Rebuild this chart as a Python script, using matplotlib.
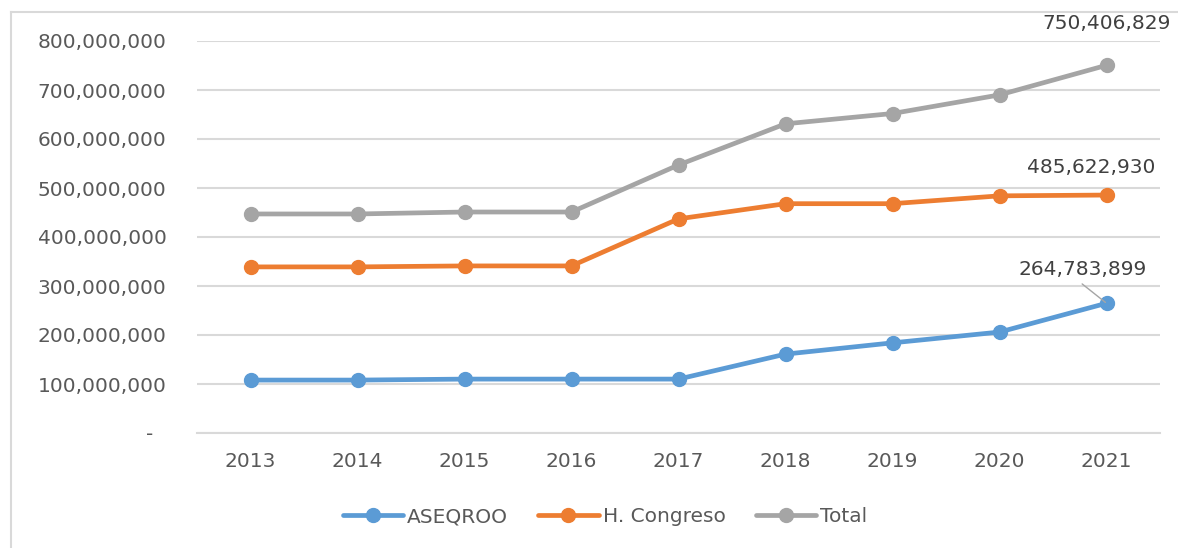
import matplotlib
matplotlib.use("Agg")
import matplotlib.pyplot as plt
from matplotlib.lines import Line2D

years = ["2013", "2014", "2015", "2016", "2017", "2018", "2019", "2020", "2021"]
aseqroo = [108e6, 108e6, 110e6, 110e6, 110e6, 161e6, 184e6, 206e6, 264783899]
congreso = [339e6, 339e6, 341e6, 341e6, 437e6, 468e6, 468e6, 484e6, 485622930]
total = [447e6, 447e6, 451e6, 451e6, 547e6, 631e6, 652e6, 690e6, 750406829]
series_names = ["ASEQROO", "H. Congreso", "Total"]
colors = ["#5B9BD5", "#ED7D31", "#A5A5A5"]
yticks = [0, 100e6, 200e6, 300e6, 400e6, 500e6, 600e6, 700e6, 800e6]

plt.rcParams['font.family'] = ['DejaVu Sans']
fig = plt.figure(figsize=(11.78, 5.48), dpi=100)
ax = fig.add_axes([197/1178, (548-433)/548, (1160-197)/1178, (433-41)/548])

x = list(range(len(years)))
for vals, name, c in zip([aseqroo, congreso, total], series_names, colors):
    ax.plot(x, vals, color=c, lw=3.4, marker='o', ms=10, label=name,
            solid_capstyle='round', zorder=3)

ax.set_xlim(-0.5, len(years) - 0.5)
ax.set_ylim(0, 800e6)
ax.set_yticks(yticks)
ax.set_yticklabels(["-  " if v == 0 else f"{int(v):,}" for v in yticks])
ax.set_xticks(x)
ax.set_xticklabels(years)
ax.grid(axis='y', color='#D9D9D9', lw=1.5, zorder=0)
for s in ax.spines.values():
    s.set_visible(False)
ax.spines['bottom'].set_visible(True)
ax.spines['bottom'].set_color('#D9D9D9')
ax.spines['bottom'].set_linewidth(1.5)
ax.tick_params(axis='both', length=0, labelsize=14.5, labelcolor='#595959')
ax.tick_params(axis='y', pad=22)
ax.tick_params(axis='x', pad=14)

# data labels for last point
ax.annotate(f"{total[-1]:,.0f}", (x[-1], total[-1]), xytext=(0, 30), textcoords='offset points',
            ha='center', va='center', fontsize=14.5, color='#404040')
ax.annotate(f"{congreso[-1]:,.0f}", (x[-1], congreso[-1]), xytext=(-11, 20), textcoords='offset points',
            ha='center', va='center', fontsize=14.5, color='#404040')
ax.annotate(f"{aseqroo[-1]:,.0f}", (x[-1], aseqroo[-1]), xytext=(-17, 24), textcoords='offset points',
            ha='center', va='center', fontsize=14.5, color='#404040',
            arrowprops=dict(arrowstyle='-', color='#A5A5A5', lw=1, shrinkA=2, shrinkB=1,
                            relpos=(0.45, 0.0)))

leg = fig.legend(loc='center', bbox_to_anchor=(605/1178, 1 - 517/548), ncol=3, frameon=False,
                 fontsize=14.5, handlelength=3.0, handletextpad=0.2, columnspacing=1.5)
for t in leg.get_texts():
    t.set_color('#595959')

# chart area border (top and left)
fig.add_artist(Line2D([11/1178, 1], [1 - 12/548, 1 - 12/548], transform=fig.transFigure, color='#D9D9D9', lw=1.5))
fig.add_artist(Line2D([11/1178, 11/1178], [0, 1 - 12/548], transform=fig.transFigure, color='#D9D9D9', lw=1.5))

fig.savefig("out.png", dpi=100)
